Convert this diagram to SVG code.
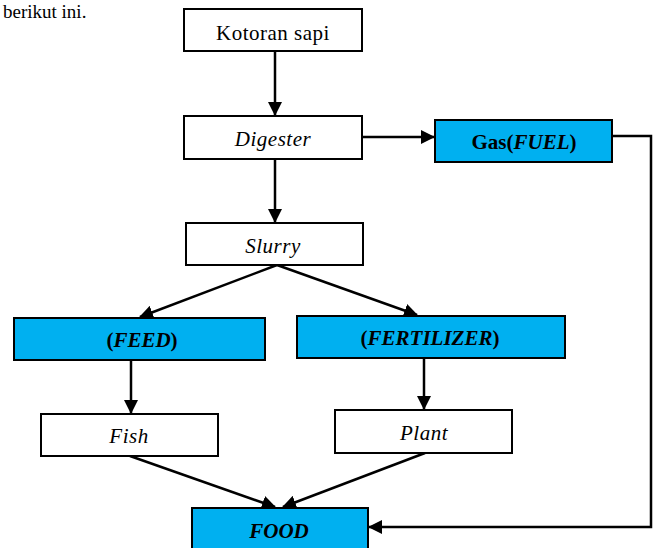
<svg xmlns="http://www.w3.org/2000/svg" width="654" height="548" viewBox="0 0 654 548">
<style>
.box{fill:#fff;stroke:#000;stroke-width:2}
.blue{fill:#00B0F0;stroke:#000;stroke-width:2}
.t{font-family:"Liberation Serif","Times New Roman",serif;font-size:21px;letter-spacing:0.5px;fill:#000;text-anchor:middle}
.i{font-style:italic}
.b{font-weight:bold;letter-spacing:0}
.c{fill:none;stroke:#000;stroke-width:2.5}
</style>
<defs>
<marker id="ah" markerWidth="14" markerHeight="14" refX="13" refY="7" orient="auto" markerUnits="userSpaceOnUse">
<path d="M0,0 L14,7 L0,14 Z" fill="#000"/>
</marker>
</defs>
<text x="3" y="18" style="font-family:'Liberation Serif','Times New Roman',serif;font-size:19px;fill:#000">berikut ini.</text>
<g id="connectors">
<line class="c" x1="275" y1="51" x2="275" y2="115" marker-end="url(#ah)"/>
<line class="c" x1="362" y1="137" x2="434" y2="137" marker-end="url(#ah)"/>
<line class="c" x1="275" y1="159" x2="275" y2="222" marker-end="url(#ah)"/>
<line class="c" x1="277" y1="265" x2="140" y2="317" marker-end="url(#ah)"/>
<line class="c" x1="277" y1="265" x2="417" y2="315" marker-end="url(#ah)"/>
<line class="c" x1="131" y1="360" x2="131" y2="413" marker-end="url(#ah)"/>
<line class="c" x1="424" y1="358" x2="424" y2="409" marker-end="url(#ah)"/>
<line class="c" x1="130" y1="456" x2="275" y2="507" marker-end="url(#ah)"/>
<line class="c" x1="425" y1="453" x2="283" y2="507" marker-end="url(#ah)"/>
<polyline class="c" points="612,136 651,136 651,527 369,527" marker-end="url(#ah)"/>
</g>
<g id="kotoran">
<rect class="box" x="184" y="9" width="178" height="42"/>
<text class="t" x="273" y="40">Kotoran sapi</text>
</g>
<g id="digester">
<rect class="box" x="184" y="116" width="178" height="43"/>
<text class="t i" x="273" y="146">Digester</text>
</g>
<g id="gas">
<rect class="blue" x="435" y="120" width="177" height="42"/>
<text class="t b" x="524" y="149">Gas(<tspan font-style="italic">FUEL</tspan>)</text>
</g>
<g id="slurry">
<rect class="box" x="186" y="223" width="177" height="42"/>
<text class="t i" x="273" y="253">Slurry</text>
</g>
<g id="feed">
<rect class="blue" x="14" y="318" width="251" height="42"/>
<text class="t b" x="142" y="347">(<tspan font-style="italic">FEED</tspan>)</text>
</g>
<g id="fertilizer">
<rect class="blue" x="297" y="316" width="268" height="42"/>
<text class="t b" x="430" y="345">(<tspan font-style="italic">FERTILIZER</tspan>)</text>
</g>
<g id="fish">
<rect class="box" x="41" y="414" width="177" height="42"/>
<text class="t i" x="129" y="443">Fish</text>
</g>
<g id="plant">
<rect class="box" x="335" y="410" width="177" height="43"/>
<text class="t i" x="424" y="440">Plant</text>
</g>
<g id="food">
<rect class="blue" x="192" y="508" width="176" height="50"/>
<text class="t b i" x="279" y="538">FOOD</text>
</g>
</svg>
